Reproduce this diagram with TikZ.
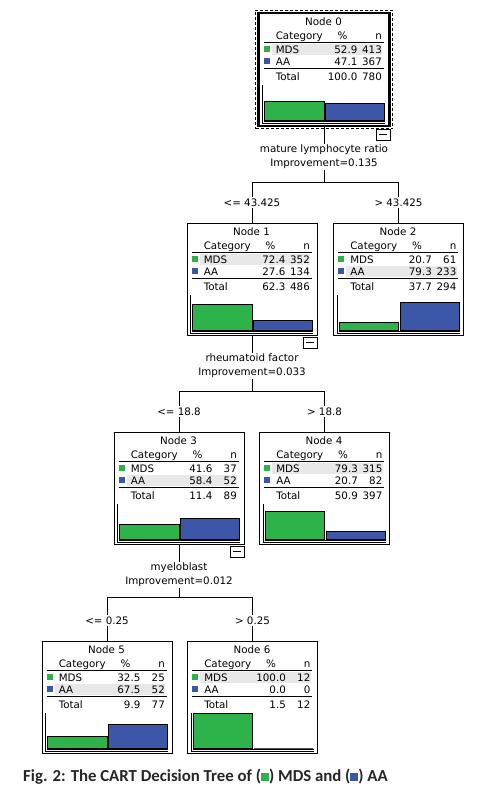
\documentclass[tikz,border=0pt]{standalone}
\usepackage{fontspec}
\setmainfont{DejaVu Sans}
\newfontfamily\capfont{Carlito}
\usetikzlibrary{positioning,fit}
\definecolor{MdsGreen}{HTML}{2EB24A}
\definecolor{AaBlue}{HTML}{3D57A8}
\definecolor{RowGray}{HTML}{E8E8E8}
\definecolor{CapText}{HTML}{262626}

\begin{document}
\begin{tikzpicture}[x=1pt,y=-1pt,
  box/.style={draw=black,line width=0.9pt,fill=white,minimum width=130pt,minimum height=112pt,inner sep=0pt,anchor=north},
  cell/.style={font=\fontsize{10.3}{12}\selectfont,inner sep=0pt},
  split/.style={font=\fontsize{10.3}{14}\selectfont,align=center,inner xsep=2pt,inner ysep=1pt},
  branch/.style={font=\fontsize{10.3}{12}\selectfont,inner sep=1pt},
  edge/.style={draw=black,line width=0.9pt},
  minusbox/.style={draw=black,line width=0.9pt,fill=white,minimum width=14pt,minimum height=11pt,inner sep=0pt,anchor=north east},
  selbox/.style={draw=black,dashed,dash pattern=on 3pt off 2pt,line width=0.9pt,inner sep=3pt},
  bar/.style={draw=black,line width=0.8pt}
]
\useasboundingbox[fill=white] (0,0) rectangle (478,788);

\foreach \id/\cx/\ty/\mdsp/\mdsn/\aap/\aan/\totp/\totn/\best in {
  0/324/13/52.9/413/47.1/367/100.0/780/1,
  1/252/223/72.4/352/27.6/134/62.3/486/1,
  2/398.5/223/20.7/61/79.3/233/37.7/294/2,
  3/179/432/41.6/37/58.4/52/11.4/89/2,
  4/324.5/432/79.3/315/20.7/82/50.9/397/1,
  5/107/641/32.5/25/67.5/52/9.9/77/2,
  6/252.5/641/100.0/12/0.0/0/1.5/12/1}{
  \node[box] (n\id) at (\cx,\ty) {};
  \begin{scope}[shift={(n\id.north west)}]
    \fill[RowGray] (13,{19+12*\best}) rectangle (123.5,{30+12*\best});
    \node[cell,anchor=base] at (65,12.3) {Node \id};
    \node[cell,anchor=base west] at (17,26) {Category};
    \node[cell,anchor=base] at (84,26) {\%};
    \node[cell,anchor=base east] at (123.5,26) {n};
    \draw[line width=0.9pt] (5,29.5) -- (125,29.5);
    \fill[MdsGreen] (5.3,32.7) rectangle (11.3,38.7);
    \fill[AaBlue] (5.3,44.7) rectangle (11.3,50.7);
    \node[cell,anchor=base west] at (17,40.3) {MDS};
    \node[cell,anchor=base east] at (99,40.3) {\mdsp};
    \node[cell,anchor=base east] at (123.5,40.3) {\mdsn};
    \node[cell,anchor=base west] at (17,52) {AA};
    \node[cell,anchor=base east] at (99,52) {\aap};
    \node[cell,anchor=base east] at (123.5,52) {\aan};
    \draw[line width=1.1pt] (5,55.3) -- (125,55.3);
    \node[cell,anchor=base west] at (17,67.7) {Total};
    \node[cell,anchor=base east] at (99,67.7) {\totp};
    \node[cell,anchor=base east] at (123.5,67.7) {\totn};
    \draw[line width=0.8pt] (4,72) -- (4,110) -- (126.5,110);
    \draw[line width=0.8pt] (5.5,108.5) -- (126.5,108.5);
    \draw[bar,fill=MdsGreen] (6.3,107) rectangle (65.7,{107-0.35*\mdsp});
    \draw[bar,fill=AaBlue] (67,107) rectangle (126.3,{107-0.35*\aap});
  \end{scope}
}

\draw[line width=2.4pt] (n0.north west) rectangle (n0.south east);
\node[selbox,fit=(n0)] (sel) {};
\node[minusbox,xshift=1pt,yshift=-3pt] (m0) at (n0.south east) {\rule{8pt}{0.9pt}};
\node[minusbox,yshift=-1pt] (m1) at (n1.south east) {\rule{8pt}{0.9pt}};
\node[minusbox,yshift=-1pt] (m3) at (n3.south east) {\rule{8pt}{0.9pt}};

\node[split,below=18pt of n0] (s0) {mature lymphocyte ratio\\Improvement=0.135};
\node[split,below=17pt of n1] (s1) {rheumatoid factor\\Improvement=0.033};
\node[split,below=17pt of n3] (s3) {myeloblast\\Improvement=0.012};

\coordinate (bus0) at (324,182);
\coordinate (bus1) at (252,391);
\coordinate (bus3) at (179,597.3);

\node[branch,above=15.5pt of n1] (b1) {<= 43.425};
\node[branch,above=15.5pt of n2] (b2) {> 43.425};
\node[branch,above=15.5pt of n3] (b3) {<= 18.8};
\node[branch,above=15.5pt of n4] (b4) {> 18.8};
\node[branch,above=15.5pt of n5] (b5) {<= 0.25};
\node[branch,above=15.5pt of n6] (b6) {> 0.25};

\draw[edge] (n0.south) -- (s0.north);
\draw[edge] (s0.south) -- (bus0);
\draw[edge] (bus0) -| (b1.north);
\draw[edge] (bus0) -| (b2.north);
\draw[edge] (b1.south) -- (n1.north);
\draw[edge] (b2.south) -- (n2.north);
\draw[edge] (n1.south) -- (s1.north);
\draw[edge] (s1.south) -- (bus1);
\draw[edge] (bus1) -| (b3.north);
\draw[edge] (bus1) -| (b4.north);
\draw[edge] (b3.south) -- (n3.north);
\draw[edge] (b4.south) -- (n4.north);
\draw[edge] (n3.south) -- (s3.north);
\draw[edge] (s3.south) -- (bus3);
\draw[edge] (bus3) -| (b5.north);
\draw[edge] (bus3) -| (b6.north);
\draw[edge] (b5.south) -- (n5.north);
\draw[edge] (b6.south) -- (n6.north);

\node[anchor=base west,inner sep=0pt,text=CapText,font=\capfont\bfseries\fontsize{16.8}{18}\selectfont] (cap) at (23,781) {Fig. 2: The CART Decision Tree of (\textcolor{MdsGreen}{\rule{8pt}{8.5pt}}) MDS and (\textcolor{AaBlue}{\rule{8pt}{8.5pt}}) AA};
\end{tikzpicture}
\end{document}
